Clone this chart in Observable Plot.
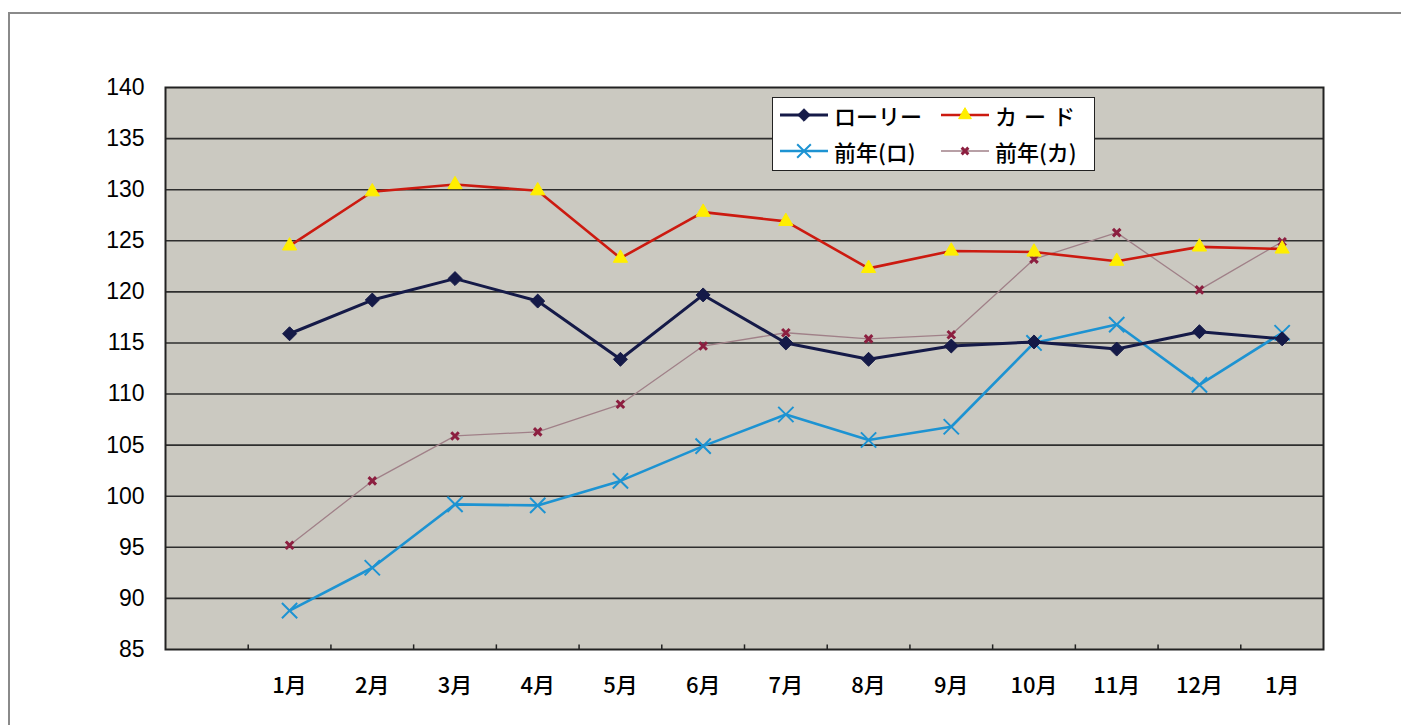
<!DOCTYPE html>
<html>
<head>
<meta charset="utf-8">
<script src="https://cdn.jsdelivr.net/npm/d3@7"></script>
<script src="https://cdn.jsdelivr.net/npm/@observablehq/plot@0.6"></script>
<style>
  html, body { margin: 0; padding: 0; background: #fff; }
  #wrap { position: relative; width: 1401px; height: 725px; overflow: hidden; }
  #frame { position: absolute; left: 8px; top: 12px; width: 1500px; height: 800px;
           border-left: 2px solid #8a8a8a; border-top: 2px solid #8a8a8a; }
  #legend { position: absolute; left: 772px; top: 97px; width: 323px; height: 74px;
            background: #fff; border: 1.5px solid #222; box-sizing: border-box;
            font-family: "Noto Sans CJK JP", sans-serif; font-size: 22px; font-weight: 500; color: #000; }
  .item { position: absolute; display: flex; align-items: center; height: 30px; }
  .item svg { margin-right: 6px; }
</style>
</head>
<body>
<div id="wrap">
  <div id="frame"></div>
  <div id="chart"></div>
  <div id="legend"></div>
</div>
<script>
const categories = ["", "1月", "2月", "3月", "4月", "5月", "6月", "7月", "8月", "9月", "10月", "11月", "12月", "1月"];
const seriesNames = ["ローリー", "カード", "前年(ロ)", "前年(カ)"];
const rolly   = [115.9, 119.2, 121.3, 119.1, 113.4, 119.7, 115.0, 113.4, 114.7, 115.1, 114.4, 116.1, 115.4];
const card    = [124.5, 129.8, 130.5, 129.9, 123.3, 127.8, 126.9, 122.3, 124.0, 123.9, 123.0, 124.4, 124.2];
const prevRo  = [88.8, 93.0, 99.2, 99.1, 101.5, 104.9, 108.0, 105.5, 106.8, 115.0, 116.8, 110.9, 116.0];
const prevKa  = [95.2, 101.5, 105.9, 106.3, 109.0, 114.7, 116.0, 115.4, 115.8, 123.2, 125.8, 120.2, 124.9];
const yTicks  = [85, 90, 95, 100, 105, 110, 115, 120, 125, 130, 135, 140];

const styles = {
  "ローリー": {line: "#151a48", lw: 3, symbol: "diamond2", fill: "#151a48", stroke: "#151a48", r: 6.3, sw: 1},
  "カード":   {line: "#cc1a10", lw: 2.6, symbol: "triangle2", fill: "#ffee00", stroke: "#ffee00", r: 6.8, sw: 1},
  "前年(ロ)": {line: "#1d93d2", lw: 2.6, symbol: "times", fill: "none", stroke: "#1d93d2", r: 7, sw: 2},
  "前年(カ)": {line: "#a08088", lw: 1.3, symbol: "times", fill: "none", stroke: "#8c1f40", r: 3.5, sw: 3}
};

const valuesBy = {"ローリー": rolly, "カード": card, "前年(ロ)": prevRo, "前年(カ)": prevKa};
const rows = seriesNames.flatMap(name =>
  valuesBy[name].map((v, i) => ({series: name, slot: i + 1, value: v})));
const labelRows = categories.map((c, i) => ({label: c, slot: i}));
const boundaries = d3.range(1, categories.length);

const drawOrder = ["前年(カ)", "前年(ロ)", "カード", "ローリー"];
const marks = [
  Plot.frame({fill: "#cbc9c1", stroke: null}),
  Plot.ruleY(yTicks.filter(t => t > 85 && t < 140), {stroke: "#2e2e2e", strokeWidth: 1.6}),
  Plot.ruleX(boundaries, {y1: 85, y2: 85.45, stroke: "#222", strokeWidth: 1.5}),
];
for (const name of drawOrder) {
  const s = styles[name];
  const data = rows.filter(d => d.series === name);
  marks.push(Plot.line(data, {x: d => d.slot + 0.5, y: "value", stroke: s.line, strokeWidth: s.lw}));
}
for (const name of drawOrder) {
  const s = styles[name];
  const data = rows.filter(d => d.series === name);
  marks.push(Plot.dot(data, {x: d => d.slot + 0.5, y: "value", symbol: () => s.symbol,
    fill: s.fill, stroke: s.stroke, strokeWidth: s.sw, r: s.r}));
}
marks.push(
  Plot.text(labelRows, {x: d => d.slot + 0.5, y: 85, text: "label", dy: 36, fontSize: 22, fontWeight: 500,
    fontFamily: "Noto Sans CJK JP", fill: "#000"}),
  Plot.axisY({ticks: yTicks, tickSize: 0, tickPadding: 21, fontSize: 23, label: null,
    fontFamily: "Liberation Sans", fill: "#000"}),
  Plot.frame({stroke: "#222", strokeWidth: 2})
);

const chart = Plot.plot({
  width: 1401, height: 725,
  marginLeft: 165, marginRight: 78, marginTop: 87, marginBottom: 76,
  x: {domain: [0, categories.length], axis: null},
  y: {domain: [85, 140], axis: null},
  symbol: {type: "identity"},
  style: {background: "transparent", overflow: "visible"},
  marks
});
chart.style.position = "absolute";
chart.style.left = "0";
chart.style.top = "0";
document.getElementById("chart").appendChild(chart);

// legend
const legend = document.getElementById("legend");
const pos = [[7, 2], [168, 2], [7, 38], [168, 38]];
const legendSymbols = {"diamond2": d3.symbolDiamond2, "triangle2": d3.symbolTriangle2, "times": d3.symbolX};
seriesNames.forEach((name, i) => {
  const s = styles[name];
  const item = document.createElement("div");
  item.className = "item";
  item.style.left = pos[i][0] + "px";
  item.style.top = pos[i][1] + "px";
  const sym = d3.symbol(legendSymbols[s.symbol], Math.PI * s.r * s.r * 0.8)();
  const spacing = name === "カード" ? "letter-spacing:7px;" : "";
  item.innerHTML = `<svg width="48" height="20"><line x1="0" x2="48" y1="10" y2="10" stroke="${s.line}" stroke-width="${s.lw}"/>
    <path d="${sym}" transform="translate(24,10)" fill="${s.fill}" stroke="${s.stroke}" stroke-width="${s.sw}"/></svg><span style="${spacing}">${name}</span>`;
  legend.appendChild(item);
});
</script>
</body>
</html>
